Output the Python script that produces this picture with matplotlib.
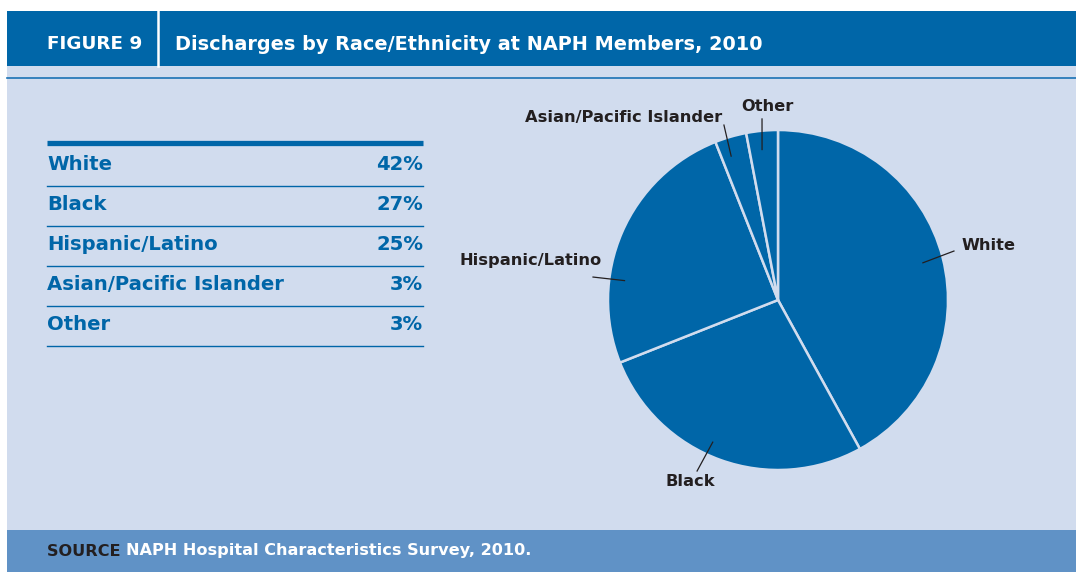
import matplotlib.pyplot as plt
from matplotlib.patches import Rectangle
import numpy as np

groups = ["White", "Black", "Hispanic/Latino", "Asian/Pacific Islander", "Other"]
shares = [42, 27, 25, 3, 3]

title = "Discharges by Race/Ethnicity at NAPH Members, 2010"
fig_label = "FIGURE 9"
source = "NAPH Hospital Characteristics Survey, 2010."

dark_blue = "#0066a8"
light_bg = "#d1dcee"
foot_blue = "#6092c6"
ink = "#231f20"
font = "DejaVu Sans"

W, H = 1076, 572
fig = plt.figure(figsize=(W / 100, H / 100), dpi=100)

# background canvas in pixel coordinates
bg = fig.add_axes([0, 0, 1, 1])
bg.set_xlim(0, W)
bg.set_ylim(H, 0)
bg.axis("off")
bg.add_patch(Rectangle((7, 11), W - 7, 55, color=dark_blue, lw=0))
bg.add_patch(Rectangle((7, 66), W - 7, 464, color=light_bg, lw=0))
bg.add_patch(Rectangle((7, 530), W - 7, 42, color=foot_blue, lw=0))
bg.plot([7, W], [78, 78], color="#1a72b5", lw=1.2)
bg.plot([158, 158], [11, 66], color="white", lw=1.8)

bg.text(47, 44, fig_label, color="white", fontsize=13.2, fontweight="bold",
        family=font, va="center", ha="left")
bg.text(175, 44, title, color="white", fontsize=13.9, fontweight="bold",
        family=font, va="center", ha="left")

t = bg.text(47, 551, "SOURCE ", color=ink, fontsize=11.6, fontweight="bold",
            family=font, va="center", ha="left")
bg.annotate(source, xycoords=t, xy=(1, 0.5), va="center", ha="left",
            color="white", fontsize=11.6, fontweight="bold", family=font)

# table on the left
x0, x1 = 47, 423
bg.plot([x0, x1], [143, 143], color=dark_blue, lw=3.8, solid_capstyle="butt")
for i, (g, s) in enumerate(zip(groups, shares)):
    y = 164 + 40 * i
    bg.text(x0, y, g, color=dark_blue, fontsize=14.1, fontweight="bold",
            family=font, va="center", ha="left")
    bg.text(x1, y, f"{s}%", color=dark_blue, fontsize=14.1, fontweight="bold",
            family=font, va="center", ha="right")
    bg.plot([x0, x1], [y + 22, y + 22], color=dark_blue, lw=1.0)

# pie
cx, cy, r = 778, 300, 170
pax = fig.add_axes([(cx - r) / W, (H - cy - r) / H, 2 * r / W, 2 * r / H])
wedges, _ = pax.pie(shares, startangle=90, counterclock=False, radius=1,
                    colors=[dark_blue] * len(shares),
                    wedgeprops=dict(edgecolor=light_bg, linewidth=1.8))
pax.set_xlim(-1, 1)
pax.set_ylim(-1, 1)
pax.set_aspect("auto")
pax.axis("off")

# leader lines: (fraction along wedge, inner radius, outer end, text pos, ha)
label_layout = [
    (0.5, 0.88, (1.035, 0.288), (1.082, 0.318), "left"),
    (0.55, 0.92, (-0.476, -1.006), (-0.518, -1.065), "center"),
    (0.32, 0.91, (-1.088, 0.135), (-1.453, 0.235), "center"),
    (0.33, 0.89, (-0.318, 1.029), (-0.906, 1.071), "center"),
    (0.44, 0.89, (-0.094, 1.065), (-0.065, 1.141), "center"),
]
for w, g, (frac, rin, outer, tpos, ha) in zip(wedges, groups, label_layout):
    ang = np.deg2rad(w.theta2 - frac * (w.theta2 - w.theta1))
    p = (rin * np.cos(ang), rin * np.sin(ang))
    pax.plot([p[0], outer[0]], [p[1], outer[1]], color=ink, lw=0.9,
             clip_on=False)
    pax.text(tpos[0], tpos[1], g, color=ink, fontsize=11.7, fontweight="bold",
             family=font, ha=ha, va="center", clip_on=False)

fig.savefig("out.png", dpi=100, facecolor="white")
